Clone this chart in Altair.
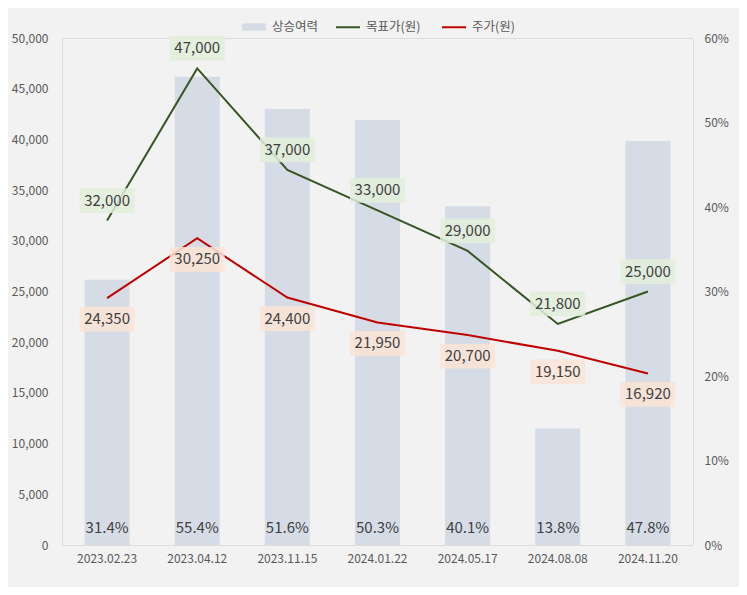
import altair as alt
import pandas as pd

dates = ["2023.02.23", "2023.04.12", "2023.11.15", "2024.01.22", "2024.05.17", "2024.08.08", "2024.11.20"]
upside = [31.4, 55.4, 51.6, 50.3, 40.1, 13.8, 47.8]
target = [32000, 47000, 37000, 33000, 29000, 21800, 25000]
price = [24350, 30250, 24400, 21950, 20700, 19150, 16920]
bar_name = "상승여력"
line_names = ["목표가(원)", "주가(원)"]
bar_color = "#d6dce5"
line_colors = ["#375623", "#c00000"]

bars_df = pd.DataFrame({"date": dates, "series": bar_name, "upside": [u / 100 for u in upside]})
lines_df = pd.DataFrame({
    "date": dates * 2,
    "series": [line_names[0]] * len(dates) + [line_names[1]] * len(dates),
    "value": target + price,
})

FONT = "Noto Sans CJK KR"
TXT = "#404040"
AX = "#595959"

x = alt.X("date:N", sort=dates, title=None,
          scale=alt.Scale(paddingInner=0.5, paddingOuter=0.25),
          axis=alt.Axis(labelAngle=0, ticks=False, domain=False, labelPadding=8,
                        labelColor=AX, labelFontSize=12, labelFont=FONT))

bars = alt.Chart(bars_df).mark_bar().encode(
    x=x,
    y=alt.Y("upside:Q", title=None, scale=alt.Scale(domain=[0, 0.6]),
            axis=alt.Axis(orient="right", format=".0%", values=[0, 0.1, 0.2, 0.3, 0.4, 0.5, 0.6],
                          ticks=False, domain=False, grid=False, labelPadding=11,
                          labelColor=AX, labelFontSize=12, labelFont=FONT)),
    fill=alt.Fill("series:N", scale=alt.Scale(domain=[bar_name], range=[bar_color]),
                  legend=alt.Legend(title=None, orient="none", legendX=179, legendY=-24,
                                    symbolType="M-1,-0.3H1V0.3H-1Z", symbolSize=576,
                                    labelFontSize=12.5, labelColor=AX, labelFont=FONT,
                                    labelOffset=5, padding=0)),
)
bar_text = alt.Chart(bars_df).mark_text(fontSize=15, color=TXT, font=FONT, baseline="middle").encode(
    x=x,
    y=alt.value(490),
    text=alt.Text("upside:Q", format=".1%"),
)
bar_layer = alt.layer(bars, bar_text)

y_line = alt.Y("value:Q", title=None, scale=alt.Scale(domain=[0, 50000]),
               axis=alt.Axis(orient="left", format=",.0f", values=list(range(0, 50001, 5000)),
                             ticks=False, domain=False, grid=False, labelPadding=14,
                             labelColor=AX, labelFontSize=12, labelFont=FONT))

lines = alt.Chart(lines_df).mark_line(strokeWidth=2).encode(
    x=x, y=y_line,
    stroke=alt.Stroke("series:N", scale=alt.Scale(domain=line_names, range=line_colors),
                      legend=alt.Legend(title=None, orient="none", legendX=273, legendY=-24,
                                        direction="horizontal", symbolType="stroke",
                                        symbolSize=576, symbolStrokeWidth=2,
                                        labelFontSize=12.5, labelColor=AX, labelFont=FONT,
                                        labelOffset=5, columnPadding=17, padding=0)),
)

box_path = "M-1,-0.45H1V0.45H-1Z"
tgt_box = alt.Chart(lines_df).transform_filter(alt.datum.series == line_names[0]).mark_point(
    shape=box_path, filled=True, size=3025, fill="#e2efda", opacity=0.85, strokeWidth=0, yOffset=-20
).encode(x=x, y=y_line)
prc_box = alt.Chart(lines_df).transform_filter(alt.datum.series == line_names[1]).mark_point(
    shape=box_path, filled=True, size=3025, fill="#fce4d6", opacity=0.85, strokeWidth=0, yOffset=21
).encode(x=x, y=y_line)
tgt_text = alt.Chart(lines_df).transform_filter(alt.datum.series == line_names[0]).mark_text(
    fontSize=15, color=TXT, font=FONT, yOffset=-20, baseline="middle"
).encode(x=x, y=y_line, text=alt.Text("value:Q", format=","))
prc_text = alt.Chart(lines_df).transform_filter(alt.datum.series == line_names[1]).mark_text(
    fontSize=15, color=TXT, font=FONT, yOffset=21, baseline="middle"
).encode(x=x, y=y_line, text=alt.Text("value:Q", format=","))

line_layer = alt.layer(lines, tgt_box, prc_box, tgt_text, prc_text)

chart = alt.layer(bar_layer, line_layer).resolve_scale(y="independent").properties(
    width=631, height=507,
    autosize=alt.AutoSizeParams(type="none"),
    padding={"left": 54, "top": 30, "right": 46, "bottom": 42},
    background="#f2f2f2",
).configure_view(fill="#fefefe", stroke=None).configure(font=FONT)

chart.save("out.html", embed_options={"renderer": "svg", "actions": False})
